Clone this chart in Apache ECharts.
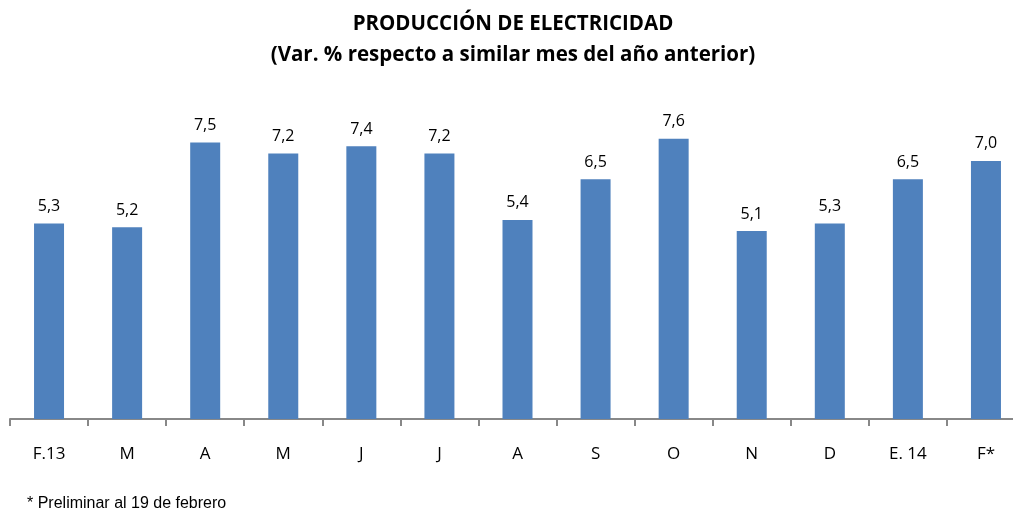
<!DOCTYPE html>
<html>
<head>
<meta charset="utf-8">
<script src="https://cdn.jsdelivr.net/npm/echarts@6/dist/echarts.min.js"></script>
<style>
html, body { margin: 0; padding: 0; background: #fff; }
#main { width: 1013px; height: 515px; }
</style>
</head>
<body>
<div id="main"></div>
<script>
// categories and values
var meses = ['F.13', 'M', 'A', 'M', 'J', 'J', 'A', 'S', 'O', 'N', 'D', 'E. 14', 'F*'];
var variacion = [5.3, 5.2, 7.5, 7.2, 7.4, 7.2, 5.4, 6.5, 7.6, 5.1, 5.3, 6.5, 7.0];

var myChart = echarts.init(document.getElementById('main'));

var option = {
    animation: false,
    title: {
        text: 'PRODUCCIÓN DE ELECTRICIDAD\n(Var. % respecto a similar mes del año anterior)',
        left: 508,
        textAlign: 'center',
        top: 4,
        textStyle: {
            fontFamily: 'Open Sans',
            fontWeight: 'bold',
            fontSize: 20.5,
            lineHeight: 31,
            color: '#000'
        }
    },
    graphic: [{
        type: 'text',
        left: 27,
        top: 496,
        style: {
            text: '* Preliminar al 19 de febrero',
            font: '16px "Liberation Sans", Arial, sans-serif',
            fill: '#000'
        }
    }],
    grid: {
        left: 10,
        top: 124,
        width: 1015,
        bottom: 96,
        outerBoundsMode: 'none',
        containLabel: false
    },
    xAxis: {
        type: 'category',
        data: meses,
        axisLine: { lineStyle: { color: '#888', width: 2 } },
        axisTick: { show: true, length: 7, lineStyle: { color: '#888', width: 2 } },
        axisLabel: {
            margin: 27,
            fontFamily: 'Open Sans',
            fontSize: 17,
            color: '#000'
        }
    },
    yAxis: {
        type: 'value',
        min: 0,
        max: 8,
        show: false,
        splitLine: { show: false }
    },
    series: [{
        type: 'bar',
        data: variacion,
        barWidth: 30,
        itemStyle: { color: '#4F81BD' },
        label: {
            show: true,
            position: 'top',
            distance: 9,
            fontFamily: 'Open Sans',
            fontSize: 16,
            color: '#000',
            formatter: function (p) { return p.value.toFixed(1).replace('.', ','); }
        }
    }]
};

myChart.setOption(option);
</script>
</body>
</html>
